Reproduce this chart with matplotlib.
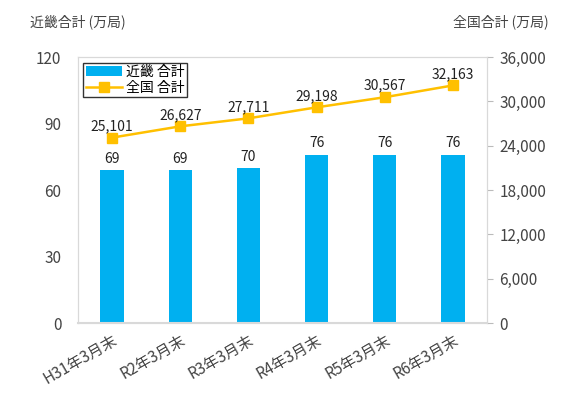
import matplotlib.pyplot as plt

plt.rcParams['font.family'] = ['Noto Sans CJK JP', 'DejaVu Sans']

categories = ['H31年3月末', 'R2年3月末', 'R3年3月末', 'R4年3月末', 'R5年3月末', 'R6年3月末']
kinki = [69, 69, 70, 76, 76, 76]
zenkoku = [25101, 26627, 27711, 29198, 30567, 32163]

blue = '#00b0f0'
gold = '#ffc000'
txt = '#444444'
edge = '#d9d9d9'

fig = plt.figure(figsize=(5.73, 3.99), dpi=100)
ax = fig.add_axes([0.136, 0.19, 0.714, 0.667])
ax2 = ax.twinx()

x = range(len(categories))
ax.bar(x, kinki, width=0.34, color=blue, label='近畿 合計', zorder=2)
for xi, v in zip(x, kinki):
    ax.text(xi, v + 2, str(v), ha='center', va='bottom', fontsize=10, color='#222222')

ax2.plot(x, zenkoku, color=gold, marker='s', markersize=7.5, linewidth=1.8, label='全国 合計', zorder=3)
for xi, v in zip(x, zenkoku):
    ax2.text(xi, v + 600, f'{v:,}', ha='center', va='bottom', fontsize=10, color='#222222')

ax.set_xlim(-0.5, 5.5)
ax.set_ylim(0, 120)
ax.set_yticks([0, 30, 60, 90, 120])
ax2.set_ylim(0, 36000)
ax2.set_yticks(range(0, 36001, 6000))
ax2.set_yticklabels([f'{t:,}' for t in range(0, 36001, 6000)])

ax.set_xticks(list(x))
ax.set_xticklabels(categories, rotation=30, ha='right', rotation_mode='anchor')

for a in (ax, ax2):
    for s in a.spines.values():
        s.set_color(edge)
    a.tick_params(colors=txt, labelsize=11)
ax.spines['bottom'].set_linewidth(1.5)
ax.tick_params(axis='y', length=0, pad=12)
ax.tick_params(axis='x', length=0, pad=6)
ax2.tick_params(axis='y', length=4, color='#bbbbbb', pad=5)

fig.text(0.052, 0.945, '近畿合計 (万局)', fontsize=10, color=txt, va='center')
fig.text(0.958, 0.945, '全国合計 (万局)', fontsize=10, color=txt, ha='right', va='center')

h1, l1 = ax.get_legend_handles_labels()
h2, l2 = ax2.get_legend_handles_labels()
leg = ax2.legend(h1 + h2, l1 + l2, loc='upper left', fontsize=10, frameon=True,
                 fancybox=False, edgecolor='black', borderpad=0.15, handlelength=2.6,
                 handletextpad=0.3, labelspacing=0.15, borderaxespad=0.4)
leg.get_frame().set_linewidth(1.0)

fig.savefig('out.png', dpi=100)
